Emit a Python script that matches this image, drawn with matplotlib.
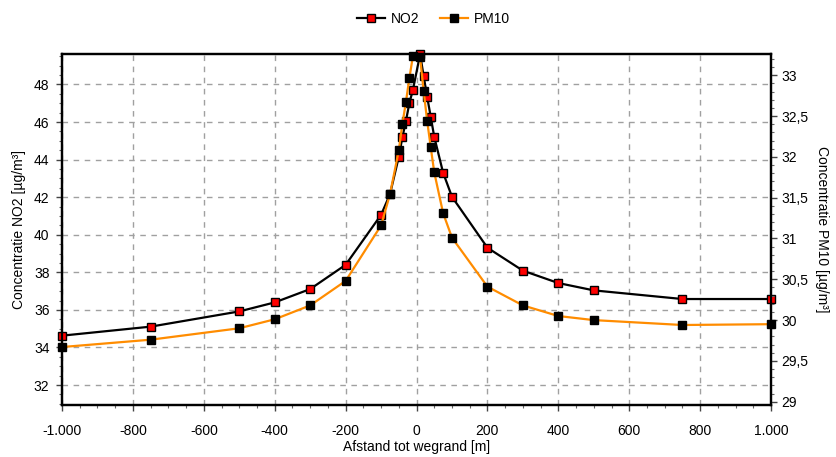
import numpy as np
import matplotlib
matplotlib.use("Agg")
import matplotlib.pyplot as plt
from matplotlib.ticker import MultipleLocator, FuncFormatter
from matplotlib.lines import Line2D

plt.rcParams['font.family'] = ['Liberation Sans', 'DejaVu Sans']

# afstand tot wegrand [m]
afstand = [-1000, -750, -500, -400, -300, -200, -100, -75, -50, -40, -30, -20, -10,
           10, 20, 30, 40, 50, 75, 100, 200, 300, 400, 500, 750, 1000]
no2 = [34.63, 35.11, 35.92, 36.40, 37.11, 38.40, 41.06, 42.15, 44.15, 45.18, 46.05, 47.02, 47.73,
       49.60, 48.46, 47.34, 46.28, 45.21, 43.30, 42.02, 39.31, 38.09, 37.43, 37.04, 36.58, 36.58]
pm10 = [29.67, 29.76, 29.90, 30.01, 30.18, 30.48, 31.16, 31.54, 32.08, 32.40, 32.67, 32.97, 33.24,
        33.22, 32.81, 32.44, 32.12, 31.81, 31.31, 31.01, 30.41, 30.18, 30.05, 30.00, 29.94, 29.95]

ORANJE = '#ff8c00'

fig = plt.figure(figsize=(8.37, 4.57), dpi=100)
ax = fig.add_axes([0.0741, 0.1138, 0.8471, 0.768])
ax2 = ax.twinx()

ax.plot(afstand, no2, color='black', lw=1.6, marker='s', ms=5.6,
        mfc='red', mec='black', mew=1.0, clip_on=False, zorder=3)
ax2.plot(afstand, pm10, color=ORANJE, lw=1.6, marker='s', ms=5.6,
         mfc='black', mec='black', clip_on=False, zorder=3)

ax.set_xlim(-1000, 1000)
ax.set_ylim(30.94, 49.62)
ax2.set_ylim(28.96, 33.26)

ax.xaxis.set_major_locator(MultipleLocator(200))
ax.xaxis.set_minor_locator(MultipleLocator(50))
ax.yaxis.set_major_locator(MultipleLocator(2))
ax.yaxis.set_minor_locator(MultipleLocator(0.5))
ax2.yaxis.set_major_locator(MultipleLocator(0.5))
ax2.yaxis.set_minor_locator(MultipleLocator(0.1))

def fmt_x(v, pos):
    s = f"{abs(int(round(v))):,}".replace(",", ".")
    return ("-" if v < 0 else "") + s

def fmt_r(v, pos):
    return f"{v:g}".replace(".", ",")

ax.xaxis.set_major_formatter(FuncFormatter(fmt_x))
ax2.yaxis.set_major_formatter(FuncFormatter(fmt_r))

ax.grid(True, which='major', color='#a0a0a0', ls=(0, (4, 4)), lw=1)
ax.set_axisbelow(True)

for a in (ax, ax2):
    for sp in a.spines.values():
        sp.set_linewidth(1.6)
    a.tick_params(which='major', direction='out', length=4, width=1, labelsize=10, color='#444444')
    a.tick_params(which='minor', direction='out', length=2.5, width=0.8, color='#666666')
ax.tick_params(axis='x', which='major', pad=10)
ax.tick_params(axis='y', which='major', pad=5)

ax.set_xlabel("Afstand tot wegrand [m]", fontsize=10, labelpad=1)
ax.set_ylabel("Concentratie NO2 [µg/m³]", fontsize=10, labelpad=6)
ax2.set_ylabel("Concentratie PM10 [µg/m³]", fontsize=10, rotation=270, labelpad=15)

handles = [
    Line2D([], [], color='black', lw=1.6, marker='s', ms=5.6, mfc='red', mec='black', mew=1.0),
    Line2D([], [], color=ORANJE, lw=1.6, marker='s', ms=5.6, mfc='black', mec='black'),
]
fig.legend(handles, ['NO2', 'PM10'], loc='center', bbox_to_anchor=(0.518, 0.958),
           ncol=2, frameon=False, fontsize=10, handlelength=2.0, columnspacing=1.5,
           handletextpad=0.4)

fig.savefig("out.png", dpi=100)
